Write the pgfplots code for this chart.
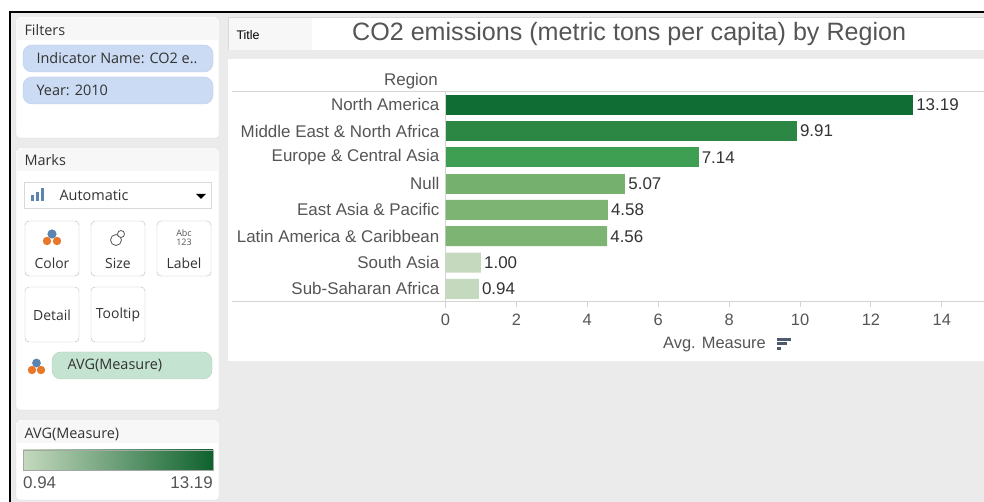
\documentclass[border=0pt]{standalone}
\usepackage{pgfplots}
\pgfplotsset{compat=1.18}
\usepackage{fontspec}
\setmainfont{Liberation Sans}
\newfontfamily\ui{Open Sans}
\definecolor{bgg}{HTML}{EBEBEB}
\definecolor{pborder}{HTML}{D9D9D9}
\definecolor{phead}{HTML}{F7F7F7}
\definecolor{pillblue}{HTML}{CADBF3}
\definecolor{pillblueb}{HTML}{B9CDEB}
\definecolor{pillgreen}{HTML}{C4E3D0}
\definecolor{txt}{HTML}{333333}
\definecolor{gtxt}{HTML}{555555}
\definecolor{axl}{HTML}{D4D4D4}
\definecolor{cA}{HTML}{106D33}
\definecolor{cB}{HTML}{2C8644}
\definecolor{cC}{HTML}{3E9F52}
\definecolor{cD}{HTML}{76B06F}
\definecolor{cE}{HTML}{7DB474}
\definecolor{cF}{HTML}{C5D9BE}
\definecolor{iblue}{HTML}{5B84B1}
\definecolor{iorange}{HTML}{E8762B}
\definecolor{sorti}{HTML}{4E5A6E}
\pgfplotstableread{
v y
13.19 0
9.91 1
7.14 2
5.07 3
4.58 4
4.56 5
1.00 6
0.94 7
}\co
\begin{document}
\begin{tikzpicture}
\begin{scope}[x=1bp,y=-1bp,yshift=502bp]
\fill[white] (0,0) rectangle (984,502);
\fill[bgg] (10,12) rectangle (984,502);
\draw[black,line width=1.2bp] (10,502) -- (10,12) -- (984,12);
% ---------- Filters panel
\draw[pborder,fill=white,rounded corners=3bp] (16,17) rectangle (219,138);
\fill[phead] (17,18) rectangle (218,40);
\node[anchor=west,txt,font=\ui\fontsize{14.5}{16}\selectfont] at (21,30) {Filters};
\draw[pillblueb,fill=pillblue,rounded corners=9bp] (23,45) rectangle (213,72);
\node[anchor=west,txt,font=\ui\fontsize{14.5}{16}\selectfont] at (33,58.5) {Indicator Name: CO2 e..};
\draw[pillblueb,fill=pillblue,rounded corners=9bp] (23,77) rectangle (213,104);
\node[anchor=west,txt,font=\ui\fontsize{14.5}{16}\selectfont] at (33,90.5) {Year: 2010};
% ---------- Marks panel
\draw[pborder,fill=white,rounded corners=3bp] (16,148) rectangle (219,410);
\fill[phead] (17,149) rectangle (218,171);
\node[anchor=west,txt,font=\ui\fontsize{14.5}{16}\selectfont] at (21,160) {Marks};
\draw[pborder,fill=white] (24,182) rectangle (211,208);
\fill[iblue] (31,195) rectangle (34,201);
\fill[iblue] (36,192) rectangle (39,201);
\fill[iblue] (41,188) rectangle (44,201);
\node[anchor=west,txt,font=\ui\fontsize{14.5}{16}\selectfont] at (56,195) {Automatic};
\fill[black] (196,194) -- (206,194) -- (201,199) -- cycle;
% buttons
\foreach \bx/\by in {25/221,91/221,157/221,25/287,91/287}{
  \draw[pborder!85!black,fill=white,rounded corners=4bp] (\bx,\by) rectangle ++(54,55);
}
\fill[iorange] (47,241) circle (4.2);
\fill[iorange] (57,241) circle (4.2);
\fill[iblue] (52,234) circle (4.6);
\node[txt,font=\ui\fontsize{14}{16}\selectfont] at (52,263) {Color};
\draw[gtxt,line width=0.8bp] (116,240) circle (5.5);
\draw[gtxt,line width=0.8bp,fill=white] (121,234) circle (3.5);
\node[txt,font=\ui\fontsize{14}{16}\selectfont] at (118,263) {Size};
\node[gtxt,font=\ui\fontsize{9}{9}\selectfont] at (184,233) {Abc};
\node[gtxt,font=\ui\fontsize{9}{9}\selectfont] at (184,242) {123};
\node[txt,font=\ui\fontsize{14}{16}\selectfont] at (184,263) {Label};
\node[txt,font=\ui\fontsize{14}{16}\selectfont] at (52,315) {Detail};
\node[txt,font=\ui\fontsize{14}{16}\selectfont] at (118,315) {Tooltip};
\fill[iorange] (32,370) circle (4.2);
\fill[iorange] (41,370) circle (4.2);
\fill[iblue] (36.5,363) circle (4.4);
\draw[pillgreen!90!black,fill=pillgreen,rounded corners=9bp] (52,352) rectangle (212,379);
\node[anchor=west,txt,font=\ui\fontsize{14.5}{16}\selectfont] at (64,365.5) {AVG(Measure)};
% ---------- legend panel
\draw[pborder,fill=white,rounded corners=3bp] (16,420) rectangle (219,500);
\fill[phead] (17,421) rectangle (218,443);
\node[anchor=west,txt,font=\ui\fontsize{14.5}{16}\selectfont] at (21,434) {AVG(Measure)};
\shade[left color=cF,right color=cA!90!black] (23,450) rectangle (213,470);
\draw[gray!70] (23,450) rectangle (213,470);
\node[anchor=west,gtxt,font=\fontsize{17}{19}\selectfont,inner sep=0pt] at (23,483) {0.94};
\node[anchor=east,gtxt,font=\fontsize{17}{19}\selectfont,inner sep=0pt] at (213,483) {13.19};
% ---------- title panel
\fill[white] (228,17) rectangle (984,50);
\fill[phead] (228,17) rectangle (312,50);
\draw[pborder] (984,17) -- (228,17) -- (228,50);
\node[anchor=west,black,font=\fontsize{12.5}{14}\selectfont] at (233,35) {Title};
\node[anchor=west,gtxt,font=\fontsize{25.2}{28}\selectfont,inner sep=0pt] at (352,34) {CO2 emissions (metric tons per capita) by Region};
% ---------- chart panel
\fill[white] (228,59) rectangle (984,361);
\node[anchor=east,gtxt,font=\fontsize{17}{19}\selectfont,inner sep=0pt] at (438,81) {Region};
\draw[axl,line width=1bp] (232,91.5) -- (984,91.5);
\draw[axl,line width=1bp] (232,302) -- (984,302);
\draw[axl,line width=1bp] (445.5,91.5) -- (445.5,308);
\node[gtxt,font=\fontsize{16.5}{18}\selectfont,inner sep=0pt,anchor=west] at (663,345) {Avg. Measure};
\fill[sorti] (777,338) rectangle (791,341);
\fill[sorti] (777,342.5) rectangle (787,345.5);
\fill[sorti] (777,347) rectangle (781,350.5);
\end{scope}
\begin{axis}[
  at={(445.5bp,200bp)}, anchor=south west,
  scale only axis, width=538.5bp, height=210.5bp,
  xmin=0, xmax=15.19, ymin=-0.5, ymax=7.5, y dir=reverse,
  axis line style={draw=none},
  xtick={0,2,...,14}, xtick pos=bottom, tick align=outside,
  major tick length=5bp, xtick style={axl, line width=1bp},
  ytick={0,...,7},
  yticklabels={North America,Middle East \& North Africa,Europe \& Central Asia,Null,East Asia \& Pacific,Latin America \& Caribbean,South Asia,Sub-Saharan Africa},
  ytick style={draw=none},
  yticklabel style={font=\fontsize{17}{19}\selectfont, text=gtxt, inner sep=0pt, xshift=-1bp},
  xticklabel style={font=\fontsize{16.5}{18}\selectfont, text=gtxt, yshift=-4bp},
  /pgf/number format/assume math mode=true,
  clip=false,
  xbar, bar width=20bp, bar shift=0pt,
  nodes near coords, point meta=x,
  nodes near coords style={font=\fontsize{17}{19}\selectfont, text=txt, anchor=west, inner sep=3bp,
     /pgf/number format/fixed, /pgf/number format/fixed zerofill, /pgf/number format/precision=2},
]
\addplot[fill=cA, draw=none] table[x=v, y=y, skip coords between index={1}{8}] {\co};
\addplot[fill=cB, draw=none] table[x=v, y=y, skip coords between index={0}{1}, skip coords between index={2}{8}] {\co};
\addplot[fill=cC, draw=none] table[x=v, y=y, skip coords between index={0}{2}, skip coords between index={3}{8}] {\co};
\addplot[fill=cD, draw=none] table[x=v, y=y, skip coords between index={0}{3}, skip coords between index={4}{8}] {\co};
\addplot[fill=cE, draw=none] table[x=v, y=y, skip coords between index={0}{4}, skip coords between index={6}{8}] {\co};
\addplot[fill=cF, draw=none] table[x=v, y=y, skip coords between index={0}{6}] {\co};
\end{axis}
\pgfresetboundingbox
\path[use as bounding box] (0,0) rectangle (984bp,502bp);
\end{tikzpicture}
\end{document}
